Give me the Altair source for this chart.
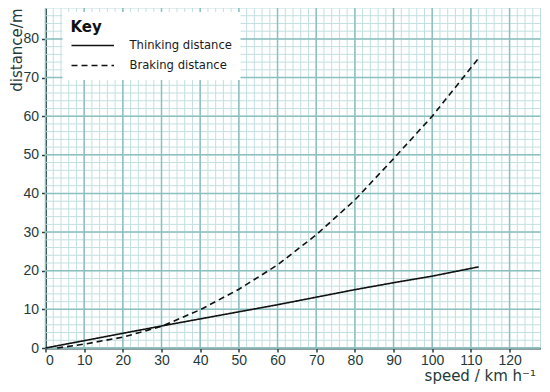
import altair as alt
import pandas as pd

# ---- data ----
thinking_speed = [0, 30, 60, 80, 90, 100, 112]
thinking_dist = [0, 5.7, 11.2, 15.1, 16.9, 18.6, 21.0]
braking_speed = [3, 10, 20, 30, 40, 50, 60, 70, 80, 90, 100, 112]
braking_dist = [0, 1.0, 2.8, 5.6, 9.9, 15.2, 21.5, 29.3, 38.3, 49.0, 60.0, 75.0]
series_names = ["Thinking distance", "Braking distance"]

x_ticks = list(range(0, 121, 10))
y_ticks = list(range(0, 81, 10))
x_minor = list(range(0, 129, 2))
y_minor = list(range(0, 89, 2))
x_major = list(range(0, 129, 10))
y_major = list(range(0, 89, 10))

lines_df = pd.DataFrame({
    "speed": thinking_speed + braking_speed,
    "dist": thinking_dist + braking_dist,
    "series": [series_names[0]] * len(thinking_speed) + [series_names[1]] * len(braking_speed),
})

xs = alt.Scale(domain=[0, 128], nice=False, zero=False)
ys = alt.Scale(domain=[0, 88], nice=False, zero=False)

MINOR = "#c2dfdf"
MAJOR = "#8cbfbf"
INK = "#1f3a3a"
TFONT = "DejaVu Sans"

x_axis = alt.Axis(
    values=x_ticks, title="speed / km h\u207b\u00b9",
    titleX=490, titleY=32, titleAlign="right", titleBaseline="alphabetic",
    labelPadding=1)
y_axis = alt.Axis(
    values=y_ticks, title="distance/m",
    titleX=-24, titleY=0, titleAngle=270, titleAlign="right", titleBaseline="alphabetic",
    labelPadding=3)

minor_x = alt.Chart(pd.DataFrame({"v": x_minor})).mark_rule(color=MINOR, strokeWidth=1).encode(
    x=alt.X("v:Q", scale=xs, axis=x_axis))
minor_y = alt.Chart(pd.DataFrame({"v": y_minor})).mark_rule(color=MINOR, strokeWidth=1).encode(
    y=alt.Y("v:Q", scale=ys, axis=y_axis))
major_x = alt.Chart(pd.DataFrame({"v": x_major})).mark_rule(color=MAJOR, strokeWidth=1.5).encode(
    x=alt.X("v:Q", scale=xs, axis=x_axis))
major_y = alt.Chart(pd.DataFrame({"v": y_major})).mark_rule(color=MAJOR, strokeWidth=1.5).encode(
    y=alt.Y("v:Q", scale=ys, axis=y_axis))

lines = alt.Chart(lines_df).mark_line(color="#111111", strokeWidth=1.6).encode(
    x=alt.X("speed:Q", scale=xs, axis=x_axis),
    y=alt.Y("dist:Q", scale=ys, axis=y_axis),
    strokeDash=alt.StrokeDash("series:N",
        scale=alt.Scale(domain=series_names, range=[[1, 0], [6, 4]]),
        legend=alt.Legend(
            title="Key", orient="none", legendX=17, legendY=4,
            fillColor="white", padding=8,
            titleFont=TFONT, titleFontSize=15, titleFontWeight="bold", titleColor="#111111",
            titlePadding=1,
            labelFont=TFONT, labelFontSize=11.6, labelColor="#1a1a1a", labelOffset=40,
            symbolType="M-1,0H4", symbolSize=289, symbolStrokeWidth=1.5,
            symbolStrokeColor="#111111", rowPadding=4)),
)

chart = alt.layer(minor_x, minor_y, major_x, major_y, lines).properties(
    width=495, height=340,
    padding={"left": 37.5, "top": 0, "right": 1.5, "bottom": 36},
    autosize=alt.AutoSizeParams(type="none"),
    background="white",
).configure_view(stroke=None).configure_axis(
    grid=False, zindex=1,
    domainColor="#263f3f", domainWidth=2,
    tickColor="#263f3f", tickSize=4, tickWidth=1.5,
    labelFont="Liberation Sans", labelFontSize=14, labelColor=INK,
    titleFont=TFONT, titleFontSize=15, titleFontWeight="normal", titleColor=INK,
)

chart.save("out.html", embed_options={"renderer": "svg", "actions": False})
